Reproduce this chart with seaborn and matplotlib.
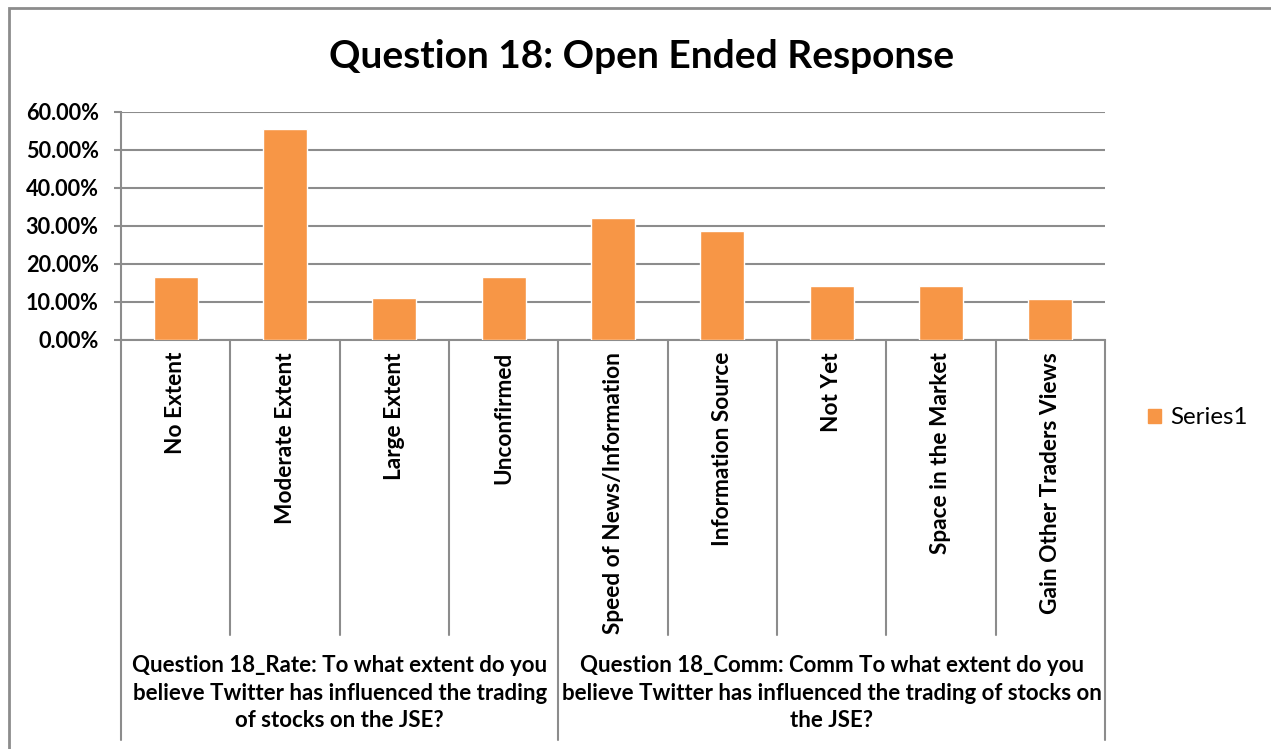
import matplotlib
matplotlib.use("Agg")
import matplotlib.pyplot as plt
import matplotlib.patches as mpatches
import matplotlib.transforms as mtransforms
from matplotlib.ticker import PercentFormatter, FixedLocator
import seaborn as sns
import pandas as pd

categories = ["No Extent", "Moderate Extent", "Large Extent", "Unconfirmed",
              "Speed of News/Information", "Information Source", "Not Yet",
              "Space in the Market", "Gain Other Traders Views"]
values = [0.1667, 0.5556, 0.1111, 0.1667, 0.3214, 0.2857, 0.1429, 0.1429, 0.1071]
groups = ["Question 18_Rate: To what extent do you\nbelieve Twitter has influenced the trading\nof stocks on the JSE?",
          "Question 18_Comm: Comm To what extent do you\nbelieve Twitter has influenced the trading of stocks on\nthe JSE?"]
group_sizes = [4, 5]
yticks = [0.0, 0.1, 0.2, 0.3, 0.4, 0.5, 0.6]
title = "Question 18: Open Ended Response"
series_name = "Series1"

sns.set_style("white")
plt.rcParams['font.family'] = ['Lato', 'DejaVu Sans']
plt.rcParams['text.color'] = 'black'
plt.rcParams['ytick.color'] = 'black'

W, H = 1271, 749
fig = plt.figure(figsize=(W / 100, H / 100), dpi=100)
ax_left, ax_right, ax_top, ax_bottom = 121, 1105, 112, 340
ax = fig.add_axes([ax_left / W, 1 - ax_bottom / H, (ax_right - ax_left) / W, (ax_bottom - ax_top) / H])

bar_color = "#F79646"
grid_color = "#8C8C8C"
df = pd.DataFrame({"cat": categories, "val": values})
sns.barplot(data=df, x="cat", y="val", color=bar_color, saturation=1, width=0.4, ax=ax, zorder=3)

ax.set_ylim(0, 0.6)
ax.set_xlim(-0.5, len(categories) - 0.5)
ax.yaxis.set_major_locator(FixedLocator(yticks))
ax.yaxis.set_major_formatter(PercentFormatter(1.0, decimals=2))
ax.grid(axis="y", color=grid_color, linewidth=1.5, zorder=0)
ax.set_axisbelow(True)
ax.set_xlabel("")
ax.set_ylabel("")
ax.set_xticks([])
for s in ["top", "right"]:
    ax.spines[s].set_visible(False)
for s in ["left", "bottom"]:
    ax.spines[s].set_color(grid_color)
    ax.spines[s].set_linewidth(1.5)
ax.tick_params(axis="y", which="major", left=True, length=5, width=1.5, color=grid_color,
               labelsize=15.6, pad=11, labelcolor="black")
for lab in ax.get_yticklabels():
    lab.set_fontweight("bold")

trans = mtransforms.blended_transform_factory(ax.transData, ax.transAxes)
axh = ax_bottom - ax_top
def yfrac(py):
    return (ax_bottom - py) / axh

# category labels
for i, c in enumerate(categories):
    ax.text(i, yfrac(352), c, transform=trans, rotation=90, ha="center", va="top",
            fontsize=16.3, fontweight="bold", color="black")

# separators
bounds = [i - 0.5 for i in range(len(categories) + 1)]
group_bounds = [-0.5]
for g in group_sizes:
    group_bounds.append(group_bounds[-1] + g)
for b in bounds:
    y_end = yfrac(740) if b in group_bounds else yfrac(635)
    ax.plot([b, b], [0, y_end], transform=trans, color=grid_color, lw=1.5, clip_on=False, zorder=1)

# group labels
for gi, g in enumerate(groups):
    cx = (group_bounds[gi] + group_bounds[gi + 1]) / 2
    ax.text(cx, yfrac(693), g, transform=trans, ha="center", va="center",
            fontsize=16, fontweight="bold", linespacing=1.36, color="black")

fig.suptitle(title, x=642 / W, y=1 - 57 / H, va="center", fontsize=28, fontweight="bold",
             color="black")

handle = mpatches.Patch(color=bar_color, label=series_name)
fig.legend(handles=[handle], loc="center left", bbox_to_anchor=(1148 / W, 1 - 418 / H),
           frameon=False, fontsize=17.4, handlelength=0.55, handleheight=0.55,
           handletextpad=0.35, borderpad=0, borderaxespad=0)

frame = mpatches.Rectangle((8.5 / W, -0.1), 1.2, 1 - 7.5 / H + 0.1, transform=fig.transFigure,
                           fill=False, edgecolor=grid_color, lw=2, clip_on=False)
fig.patches.append(frame)

fig.savefig("out.png", dpi=100)
